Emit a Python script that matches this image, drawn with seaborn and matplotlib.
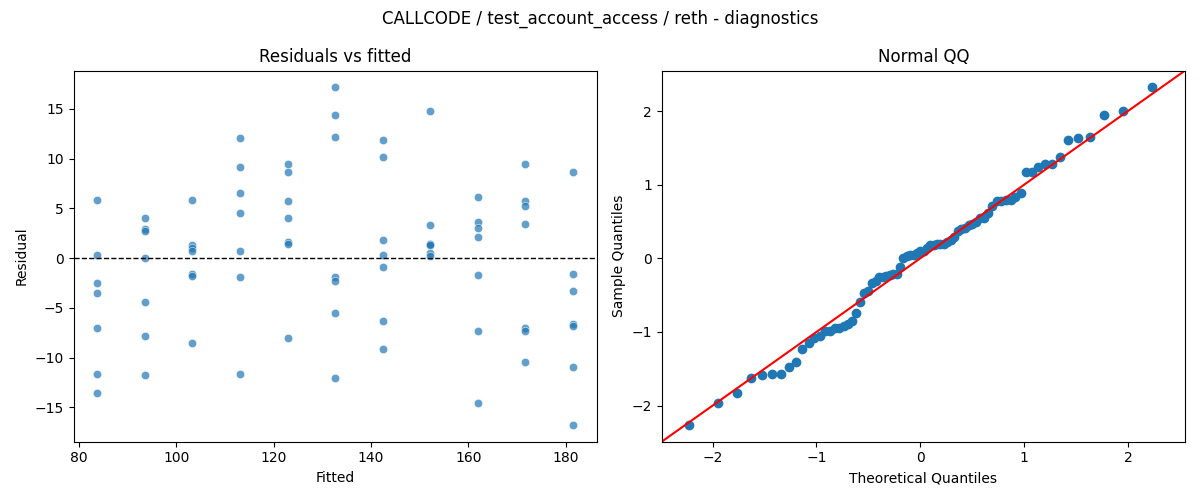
from statistics import NormalDist

import numpy as np
import pandas as pd
import seaborn as sns
import matplotlib
matplotlib.use("Agg")
import matplotlib.pyplot as plt

# Fitted levels and residuals (7 obs per level)
fitted_levels = [83.8, 93.6, 103.3, 113.1, 122.9, 132.6, 142.4, 152.2, 161.9, 171.7, 181.5]
residuals_by_level = [
    [5.85, 0.27, -2.51, -3.51, -7.02, -11.64, -13.55],
    [4.01, 2.94, 2.71, 0.0, -4.41, -7.83, -11.74],
    [5.85, 1.37, 1.04, 0.70, -1.64, -1.80, -8.53],
    [12.04, 9.13, 6.52, 4.52, 0.74, -1.91, -11.64],
    [9.43, 8.63, 5.72, 4.01, 1.64, 1.44, -8.03],
    [17.16, 14.35, 12.14, -1.91, -2.31, -5.52, -12.04],
    [11.84, 10.13, 1.81, 0.30, -0.90, -6.29, -9.10],
    [14.75, 3.34, 1.45, 1.40, 1.35, 0.56, 0.26],
    [6.12, 3.61, 3.01, 2.11, -1.71, -7.32, -14.55],
    [9.43, 5.72, 5.22, 3.41, -6.99, -7.29, -10.43],
    [8.63, -1.61, -3.31, -6.59, -6.86, -10.94, -16.76],
]

rows = []
for f, res in zip(fitted_levels, residuals_by_level):
    for r in res:
        rows.append({"fitted": f, "residual": r})
df = pd.DataFrame(rows)

# QQ data: standardized residuals vs normal quantiles (positions i/(n+1))
resid = df["residual"].to_numpy()
sample_q = np.sort((resid - resid.mean()) / resid.std())
n = len(sample_q)
theo_q = np.array([NormalDist().inv_cdf(i / (n + 1)) for i in range(1, n + 1)])

fig, axes = plt.subplots(1, 2, figsize=(12, 5))

ax = axes[0]
sns.scatterplot(data=df, x="fitted", y="residual", alpha=0.7, ax=ax)
ax.axhline(0, color="black", linestyle="--", linewidth=1)
ax.set_title("Residuals vs fitted")
ax.set_xlabel("Fitted")
ax.set_ylabel("Residual")

ax = axes[1]
ax.plot(theo_q, sample_q, "o", color="C0")
xlim, ylim = ax.get_xlim(), ax.get_ylim()
lo, hi = min(xlim[0], ylim[0]), max(xlim[1], ylim[1])
ax.plot([lo, hi], [lo, hi], color="red")
ax.set_xlim(lo, hi)
ax.set_ylim(lo, hi)
ax.set_title("Normal QQ")
ax.set_xlabel("Theoretical Quantiles")
ax.set_ylabel("Sample Quantiles")

fig.suptitle("CALLCODE / test_account_access / reth - diagnostics")
plt.tight_layout()
plt.savefig("out.png", dpi=100)
